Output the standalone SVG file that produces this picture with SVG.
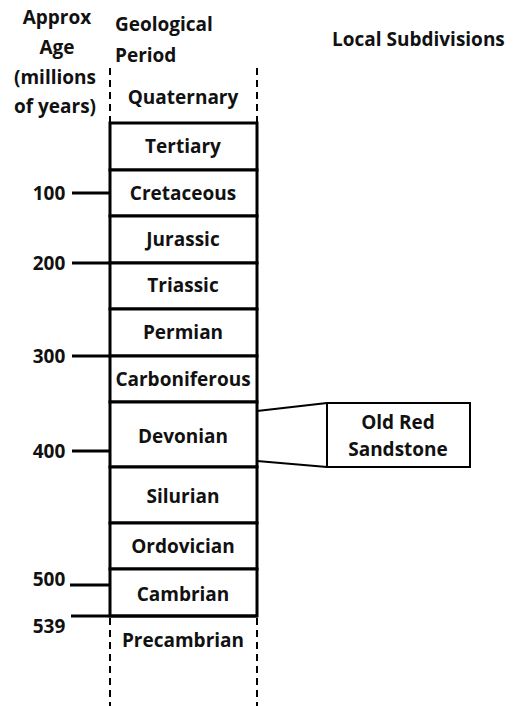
<svg xmlns="http://www.w3.org/2000/svg" width="522" height="706" viewBox="0 0 522 706">
<style>
text{font-family:"Open Sans","Liberation Sans",sans-serif;font-weight:bold;font-size:19px;fill:#111}
.c{text-anchor:middle}
.box{fill:#fff;stroke:#000;stroke-width:3}
.tick{stroke:#000;stroke-width:3;fill:none}
.dash{stroke:#000;stroke-width:2;stroke-dasharray:7,5;fill:none}
.conn{stroke:#000;stroke-width:2;fill:none}
</style>
<rect width="522" height="706" fill="#fff"/>
<g id="headers">
<text class="c" x="57" y="24">Approx</text>
<text class="c" x="57" y="54">Age</text>
<text class="c" x="55" y="84">(millions</text>
<text class="c" x="55" y="113">of years)</text>
<text x="115" y="31">Geological</text>
<text x="115" y="62">Period</text>
<text x="332" y="46">Local Subdivisions</text>
</g>
<g id="dashed">
<path class="dash" d="M110,68V122M257,68V122M110,618V706M257,618V706"/>
</g>
<g id="quaternary"><text class="c" x="183" y="104">Quaternary</text></g>
<g id="tertiary"><rect class="box" x="110" y="123" width="147" height="47"/><text class="c" x="183" y="153">Tertiary</text></g>
<g id="cretaceous"><rect class="box" x="110" y="170" width="147" height="46"/><text class="c" x="183" y="200">Cretaceous</text></g>
<g id="jurassic"><rect class="box" x="110" y="216" width="147" height="47"/><text class="c" x="183" y="246">Jurassic</text></g>
<g id="triassic"><rect class="box" x="110" y="263" width="147" height="46"/><text class="c" x="183" y="292">Triassic</text></g>
<g id="permian"><rect class="box" x="110" y="309" width="147" height="47"/><text class="c" x="183" y="339">Permian</text></g>
<g id="carboniferous"><rect class="box" x="110" y="356" width="147" height="46"/><text class="c" x="183" y="386">Carboniferous</text></g>
<g id="devonian"><rect class="box" x="110" y="402" width="147" height="65"/><text class="c" x="183" y="443">Devonian</text></g>
<g id="silurian"><rect class="box" x="110" y="467" width="147" height="56"/><text class="c" x="183" y="503">Silurian</text></g>
<g id="ordovician"><rect class="box" x="110" y="523" width="147" height="46"/><text class="c" x="183" y="553">Ordovician</text></g>
<g id="cambrian"><rect class="box" x="110" y="569" width="147" height="47"/><text class="c" x="183" y="601">Cambrian</text></g>
<g id="precambrian"><text class="c" x="183" y="647">Precambrian</text></g>
<g id="old-red-sandstone">
<rect x="327" y="403" width="143" height="64" fill="#fff" stroke="#000" stroke-width="2"/>
<text class="c" x="398" y="429">Old Red</text>
<text class="c" x="398" y="456">Sandstone</text>
</g>
<g id="ages">
<text class="c" x="49" y="200">100</text>
<text class="c" x="49" y="270">200</text>
<text class="c" x="49" y="363">300</text>
<text class="c" x="49" y="458">400</text>
<text class="c" x="49" y="586">500</text>
<text class="c" x="49" y="633">539</text>
</g>
<g id="connectors">
<path class="tick" d="M72,193H110M72,263H110M72,356H110M72,451H110M70,585H110M71,616H257"/>
<path class="conn" d="M257,411L327,403M257,461L327,467"/>
</g>
</svg>
